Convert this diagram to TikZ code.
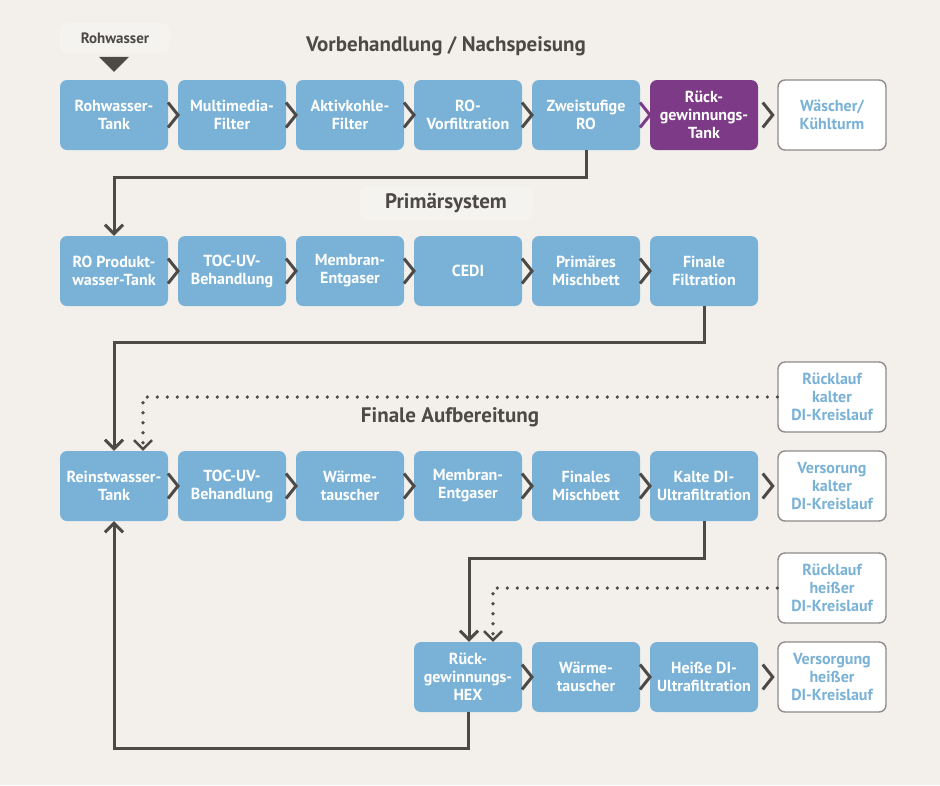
\documentclass[tikz,border=0pt]{standalone}
\usepackage{fontspec}
\setmainfont{PT Sans}
\usetikzlibrary{
		calc,
		positioning,
		arrows.meta
	}
\definecolor{bgcol}{HTML}{F3F0EC}
\definecolor{labelbg}{HTML}{F5F3F0}
\definecolor{boxblue}{HTML}{79B2D6}
\definecolor{boxpurple}{HTML}{7D3B87}
\definecolor{ink}{HTML}{4C4947}
\definecolor{rimgray}{HTML}{8E8B89}
\tikzset{
		>={Straight Barb[length=9pt,width=18pt]},
		box/.style={rectangle, rounded corners=7pt, fill=boxblue, text=white,
			minimum width=108pt, minimum height=70pt, inner sep=0pt, align=center,
			font=\bfseries\fontsize{16}{18}\selectfont},
		purplebox/.style={box, fill=boxpurple},
		whitebox/.style={box, fill=white, draw=rimgray, line width=1.4pt, text=boxblue},
		title/.style={text=ink, font=\bfseries\fontsize{21}{24}\selectfont},
		flow/.style={draw=ink, line width=3pt, ->},
		dotflow/.style={draw=ink, line width=3.6pt, line cap=round, dash pattern=on 0pt off 10pt,
			-{Straight Barb[length=9pt,width=18pt,line width=2.5pt]}}
	}
\newcommand{\chevron}[3][ink]{%
	\draw[draw=#1, line width=3pt] ($(#2.east)!0.5!(#3.west)+(-5,-12.5)$) -- ++(10,12.5) -- ++(-10,12.5);}

\begin{document}
\begin{tikzpicture}[x=1pt, y=-1pt]
		\fill[bgcol] (0,0) rectangle (940,785);
		\useasboundingbox (0,0) rectangle (940,785);

		% titles
		\node[title] (tvor) at (446,46) {Vorbehandlung / Nachspeisung};
		\node[title, fill=labelbg, rounded corners=8pt, minimum width=173pt, minimum height=34pt] (tprim) at (446,203) {Primärsystem};
		\node[title] (tfin) at (450,417) {Finale Aufbereitung};

		% Vorbehandlung
		\node[box] (rwtank) at (114,115) {Rohwasser-\\Tank};
		\node[box] (mmf) at (232,115) {Multimedia-\\Filter};
		\node[box] (akf) at (350,115) {Aktivkohle-\\Filter};
		\node[box] (rovf) at (468,115) {RO-\\Vorfiltration};
		\node[box] (ro2) at (586,115) {Zweistufige\\RO};
		\node[purplebox] (rgtank) at (704,115) {Rück-\\gewinnungs-\\Tank};
		\node[whitebox] (waescher) at (832,115) {Wäscher/\\Kühlturm};

		\node[text=ink, fill=labelbg, rounded corners=8pt, minimum width=110pt, minimum height=30pt,
			font=\bfseries\fontsize{15}{17}\selectfont] (rwlabel) at (115,38) {Rohwasser};
		\fill[ink] ([shift={(-15pt,23pt)}]rwtank.north) -- ++(30,0) -- ++(-15,15) -- cycle;

		% Primaersystem
		\node[box] (roprod) at (114,271) {RO Produkt-\\wasser-Tank};
		\node[box] (tocuv) at (232,271) {TOC-UV-\\Behandlung};
		\node[box] (meg) at (350,271) {Membran-\\Entgaser};
		\node[box] (cedi) at (468,271) {CEDI};
		\node[box] (pmb) at (586,271) {Primäres\\Mischbett};
		\node[box] (ffil) at (704,271) {Finale\\Filtration};

		% Finale Aufbereitung
		\node[box] (rein) at (114,486) {Reinstwasser-\\Tank};
		\node[box] (tocuvb) at (232,486) {TOC-UV-\\Behandlung};
		\node[box] (wta) at (350,486) {Wärme-\\tauscher};
		\node[box] (megb) at (468,486) {Membran-\\Entgaser};
		\node[box] (fmb) at (586,486) {Finales\\Mischbett};
		\node[box] (kdi) at (704,486) {Kalte DI-\\Ultrafiltration};
		\node[whitebox] (vkalt) at (832,486) {Versorung\\kalter\\DI-Kreislauf};
		\node[whitebox] (rkalt) at (832,397) {Rücklauf\\kalter\\DI-Kreislauf};

		\node[box] (hex) at (468,677) {Rück-\\gewinnungs-\\HEX};
		\node[box] (wtb) at (586,677) {Wärme-\\tauscher};
		\node[box] (hdi) at (704,677) {Heiße DI-\\Ultrafiltration};
		\node[whitebox] (vheiss) at (832,677) {Versorgung\\heißer\\DI-Kreislauf};
		\node[whitebox] (rheiss) at (832,588) {Rücklauf\\heißer\\DI-Kreislauf};

		% chevrons
		\foreach \a/\b in {rwtank/mmf, mmf/akf, akf/rovf, rovf/ro2, rgtank/waescher,
			roprod/tocuv, tocuv/meg, meg/cedi, cedi/pmb, pmb/ffil,
			rein/tocuvb, tocuvb/wta, wta/megb, megb/fmb, fmb/kdi, kdi/vkalt,
			hex/wtb, wtb/hdi, hdi/vheiss}
			\chevron{\a}{\b};
		\chevron[boxpurple]{ro2}{rgtank};

		% flows
		\draw[flow] (ro2.south) -- ++(0,27) -| (roprod.north);
		\draw[flow] (ffil.south) -- ++(0,36) -| (rein.north);
		\draw[flow] (kdi.south) -- ++(0,37) -| ([xshift=1pt]hex.north);
		\draw[flow] (hex.south) -- ++(0,36) -| (rein.south);
		\draw[dotflow] (rkalt.west) -| ([xshift=29pt]rein.north);
		\draw[dotflow] (rheiss.west) -| ([xshift=25pt]hex.north);
	\end{tikzpicture}
\end{document}
